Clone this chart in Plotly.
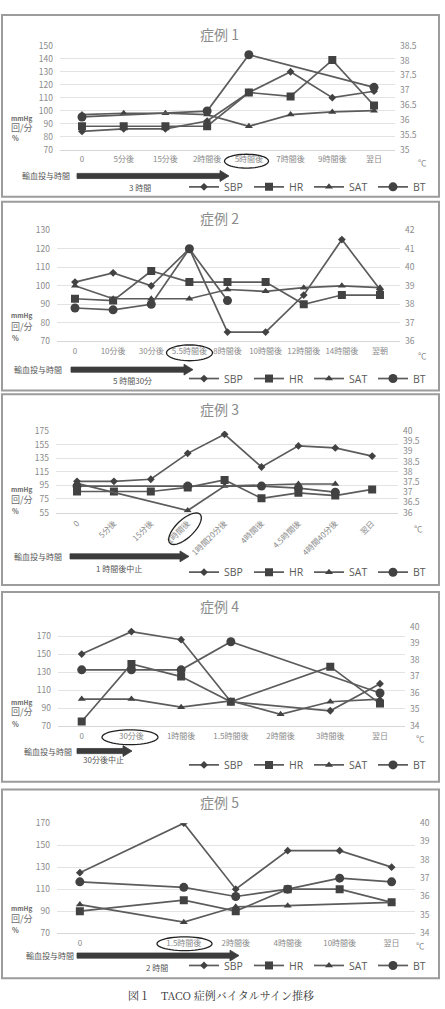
import numpy as np
import plotly.graph_objects as go

# ---------------- data ----------------
case1_cats = ["0", "5分後", "15分後", "2時間後", "5時間後", "7時間後", "9時間後", "翌日"]
case1_sbp = [84, 86, 86, 92, 114, 130, 110, 115]
case1_hr = [88, 88, 88, 88, 114, 111, 139, 104]
case1_sat = [97, 98, 98, 97, 88, 97, 99, 100]
case1_bt = [36.1, None, None, 36.3, 38.2, None, None, 37.1]

case2_cats = ["0", "10分後", "30分後", "5.5時間後", "8時間後", "10時間後", "12時間後", "14時間後", "翌朝"]
case2_sbp = [102, 107, 100, 120, 75, 75, 95, 125, 98]
case2_hr = [93, 92, 108, 102, 102, 102, 90, 95, 95]
case2_sat = [100, 93, 93, 93, 98, 97, 99, 100, 99]
case2_bt = [37.8, 37.7, 38.0, 41.0, 38.2, None, None, None, None]

case3_cats = ["0", "5分後", "15分後", "1時間後", "1時間20分後", "4時間後", "4.5時間後", "4時間40分後", "翌日"]
case3_sbp = [101, 101, 104, 142, 170, 122, 153, 150, 138]
case3_hr = [86, 86, 86, 92, 103, 76, 84, 80, 89]
case3_sat = [98, None, None, 58, 94, None, 97, 97, None]
case3_bt = [37.3, None, None, 37.3, None, 37.3, 37.2, 37.0, None]

case4_cats = ["0", "30分後", "1時間後", "1.5時間後", "2時間後", "3時間後", "翌日"]
case4_sbp = [150, 175, 166, 97, None, 87, 117]
case4_hr = [75, 139, 125, 97, None, 136, 95]
case4_sat = [100, 100, 91, 98, 83, 97, 100]
case4_bt = [37.4, 37.4, 37.4, 39.1, None, None, 36.0]

# the second category of case 5 is an unlabeled empty slot
case5_cats = ["0", " ", "1.5時間後", "2時間後", "4時間後", "10時間後", "翌日"]
case5_sbp = [125, None, 170, 110, 145, 145, 130]
case5_hr = [90, None, 100, 90, 110, 110, 98]
case5_sat = [96, None, 80, 94, 95, None, 98]
case5_bt = [36.8, None, 36.5, 36.0, 36.4, 37.0, 36.8]

series_names = ["SBP", "HR", "SAT", "BT"]
titles = ["症例 1", "症例 2", "症例 3", "症例 4", "症例 5"]
duration_labels = ["3 時間", "5 時間30分", "1 時間後中止", "30分後中止", "2 時間"]
caption = "図１　TACO 症例バイタルサイン推移"

cases = [
    (case1_cats, case1_sbp, case1_hr, case1_sat, case1_bt),
    (case2_cats, case2_sbp, case2_hr, case2_sat, case2_bt),
    (case3_cats, case3_sbp, case3_hr, case3_sat, case3_bt),
    (case4_cats, case4_sbp, case4_hr, case4_sat, case4_bt),
    (case5_cats, case5_sbp, case5_hr, case5_sat, case5_bt),
]

# ---------------- layout geometry (pixels) ----------------
W, H = 445, 1009
def px(x): return x / W
def py(y): return 1 - y / H

panels = [
    dict(xd=(60, 395), yd=(39.3, 144.3), xr=[-0.527, 7.503], yl=[70, 150], ylt=(70, 10),
         yr=[35, 38.5], yrt=(35, 0.5), box=(2, 8, 439, 192), title_y=27,
         units_y=(112, 122, 133), deg=(422, 157), arrow=(77, 229, 171), lab_x=46, dur=(140, 183),
         leg_y=182, angle=0),
    dict(xd=(57, 400), yd=(226, 338.3), xr=[-0.472, 8.525], yl=[70, 130], ylt=(70, 10),
         yr=[36, 42], yrt=(36, 1), box=(2, 197, 439, 388), title_y=214,
         units_y=(312, 323, 335), deg=(422, 352), arrow=(71, 193, 367), lab_x=38, dur=(132, 378),
         leg_y=376, angle=0),
    dict(xd=(56, 398), yd=(429, 511.7), xr=[-0.57, 8.70], yl=[55, 175], ylt=(55, 20),
         yr=[36, 40], yrt=(36, 0.5), box=(2, 392, 439, 585), title_y=407,
         units_y=(488, 498, 510), deg=(418, 527), arrow=(70, 189, 556), lab_x=38, dur=(119, 568),
         leg_y=572, angle=-45),
    dict(xd=(58, 405), yd=(627.3, 727.7), xr=[-0.477, 6.503], yl=[70, 180.3], ylt=(70, 20),
         yr=[34, 40], yrt=(34, 1), box=(2, 592, 439, 784), title_y=606,
         units_y=(703, 713, 726), deg=(420, 740), arrow=(77, 132, 753), lab_x=48, dur=(103, 762),
         leg_y=767, angle=0),
    dict(xd=(57, 415), yd=(826, 937.3), xr=[-0.44, 6.45], yl=[70, 170], ylt=(70, 20),
         yr=[34, 40], yrt=(34, 1), box=(2, 792, 439, 983), title_y=805,
         units_y=(912, 922, 934), deg=(420, 949), arrow=(77, 239, 960), lab_x=50, dur=(157, 972),
         leg_y=970, angle=0),
]

ellipses = [
    dict(cx=246.5, cy=156, a=22, b=7, ang=0),
    dict(cx=189.5, cy=350, a=23, b=8, ang=0),
    dict(cx=185, cy=528, a=21, b=9, ang=44),
    dict(cx=130, cy=739, a=28, b=7.5, ang=0),
    dict(cx=184.5, cy=948, a=27.5, b=7, ang=0),
]

FONT = "Noto Sans CJK JP, Noto Sans, sans-serif"
LINE_C = "#5c5c5c"
MARK_C = "#424242"
TICK_C = "#8a8a8a"
GRID_C = "#e3e3e3"

symbols = ["diamond", "square", "triangle-up", "circle"]
sizes = [6, 8, 7, 9]
leg_w = [20, 15, 19, 14]

fig = go.Figure()
layout = dict(
    width=W, height=H, autosize=False,
    margin=dict(l=0, r=0, t=0, b=0),
    paper_bgcolor="white", plot_bgcolor="white",
    font=dict(family=FONT, color=TICK_C),
    showlegend=True,
)
annotations = []
shapes = []

for i, (p, data) in enumerate(zip(panels, cases)):
    n = i + 1
    xname = "x" if n == 1 else f"x{n}"
    yl_name = "y" if n == 1 else f"y{2*n-1}"
    yr_name = f"y{2*n}"
    legname = "legend" if n == 1 else f"legend{n}"
    cats = data[0]
    for k in range(4):
        vals = data[k + 1]
        fig.add_trace(go.Scatter(
            x=cats, y=vals, name=series_names[k], mode="lines+markers",
            xaxis=xname, yaxis=(yr_name if k == 3 else yl_name),
            connectgaps=True, legend=legname, legendwidth=leg_w[k],
            line=dict(color=LINE_C, width=1.7),
            marker=dict(symbol=symbols[k], size=sizes[k], color=MARK_C),
            hoverinfo="x+y+name",
        ))

    xkey = "xaxis" if n == 1 else f"xaxis{n}"
    ylkey = "yaxis" if n == 1 else f"yaxis{2*n-1}"
    yrkey = f"yaxis{2*n}"
    layout[xkey] = dict(
        domain=[px(p["xd"][0]), px(p["xd"][1])], anchor=yl_name,
        type="category", categoryorder="array", categoryarray=cats,
        range=p["xr"], showgrid=False, zeroline=False,
        showline=True, linecolor="#d6d6d6", linewidth=1,
        ticks="", tickangle=p["angle"], ticklabelstandoff=2,
        tickfont=dict(size=8, color=TICK_C, family=FONT),
        fixedrange=True,
    )
    layout[ylkey] = dict(
        domain=[py(p["yd"][1]), py(p["yd"][0])], anchor=xname,
        range=p["yl"], tick0=p["ylt"][0], dtick=p["ylt"][1],
        showgrid=True, gridcolor=GRID_C, gridwidth=1, zeroline=False,
        showline=False, ticks="", ticklabelstandoff=6,
        tickfont=dict(size=8.5, color=TICK_C, family=FONT),
        fixedrange=True,
    )
    layout[yrkey] = dict(
        domain=[py(p["yd"][1]), py(p["yd"][0])], anchor=xname,
        overlaying=yl_name, side="right",
        range=p["yr"], tick0=p["yrt"][0], dtick=p["yrt"][1],
        showgrid=False, zeroline=False, showline=False, ticks="",
        ticklabelstandoff=4,
        tickfont=dict(size=8.5, color=TICK_C, family=FONT),
        fixedrange=True,
    )
    layout[legname] = dict(
        orientation="h", x=px(432), xanchor="right", y=py(p["leg_y"]), yanchor="middle",
        font=dict(size=10.5, color="#595959", family="Open Sans, Noto Sans, sans-serif"),
        bgcolor="rgba(0,0,0,0)", borderwidth=0, itemwidth=30,
        tracegroupgap=0, traceorder="normal",
    )

    # panel frame
    bx0, by0, bx1, by1 = p["box"]
    shapes.append(dict(type="rect", xref="paper", yref="paper",
                       x0=px(bx0), x1=px(bx1), y0=py(by1), y1=py(by0),
                       line=dict(color="#9c9c9c", width=2), fillcolor="rgba(0,0,0,0)", layer="below"))
    # title
    annotations.append(dict(text=titles[i], x=px(219), y=py(p["title_y"]), xref="paper", yref="paper",
                            showarrow=False, xanchor="center", yanchor="middle",
                            font=dict(size=14, color="#8c8c8c", family=FONT)))
    # unit labels
    uy = p["units_y"]
    annotations.append(dict(text="<b>mmHg</b>", x=px(9), y=py(uy[0]), xref="paper", yref="paper",
                            showarrow=False, xanchor="left", yanchor="middle",
                            font=dict(size=6.5, color="#6a6a6a", family=FONT)))
    annotations.append(dict(text="回/分", x=px(9), y=py(uy[1]), xref="paper", yref="paper",
                            showarrow=False, xanchor="left", yanchor="middle",
                            font=dict(size=9, color="#6a6a6a", family=FONT)))
    annotations.append(dict(text="<b>%</b>", x=px(10), y=py(uy[2]), xref="paper", yref="paper",
                            showarrow=False, xanchor="left", yanchor="middle",
                            font=dict(size=7, color="#6a6a6a", family=FONT)))
    annotations.append(dict(text="℃", x=px(p["deg"][0]), y=py(p["deg"][1]), xref="paper", yref="paper",
                            showarrow=False, xanchor="center", yanchor="middle",
                            font=dict(size=8.5, color=TICK_C, family=FONT)))
    # infusion arrow
    ax0, ax1, ay = p["arrow"]
    head = 9
    bh, hh = 2.6, 5.5
    path = (f"M{px(ax0)},{py(ay - bh)} L{px(ax1 - head)},{py(ay - bh)} L{px(ax1 - head)},{py(ay - hh)} "
            f"L{px(ax1)},{py(ay)} L{px(ax1 - head)},{py(ay + hh)} L{px(ax1 - head)},{py(ay + bh)} "
            f"L{px(ax0)},{py(ay + bh)} Z")
    shapes.append(dict(type="path", xref="paper", yref="paper", path=path,
                       fillcolor="#3c3c3c", line=dict(color="#3c3c3c", width=0.8)))
    annotations.append(dict(text="輸血投与時間", x=px(p["lab_x"]), y=py(ay), xref="paper", yref="paper",
                            showarrow=False, xanchor="center", yanchor="middle",
                            font=dict(size=8, color="#555555", family=FONT)))
    annotations.append(dict(text=duration_labels[i], x=px(p["dur"][0]), y=py(p["dur"][1]),
                            xref="paper", yref="paper", showarrow=False,
                            xanchor="center", yanchor="middle",
                            font=dict(size=8, color="#555555", family=FONT)))
    # ellipse highlight (screen coords, y downward, angle counter-clockwise)
    e = ellipses[i]
    t = np.linspace(0, 2 * np.pi, 49)
    ph = np.deg2rad(e["ang"])
    ex = e["cx"] + e["a"] * np.cos(t) * np.cos(ph) + e["b"] * np.sin(t) * np.sin(ph)
    ey = e["cy"] - e["a"] * np.cos(t) * np.sin(ph) + e["b"] * np.sin(t) * np.cos(ph)
    epath = "M" + " L".join(f"{px(a):.5f},{py(b):.5f}" for a, b in zip(ex, ey)) + " Z"
    shapes.append(dict(type="path", xref="paper", yref="paper", path=epath,
                       line=dict(color="#222222", width=1.3), fillcolor="rgba(0,0,0,0)"))

annotations.append(dict(text=caption, x=px(221), y=py(1000), xref="paper", yref="paper",
                        showarrow=False, xanchor="center", yanchor="middle",
                        font=dict(size=11, color="#333333",
                                  family="Noto Serif CJK JP, DejaVu Serif, Noto Sans CJK JP, serif")))

layout["annotations"] = annotations
layout["shapes"] = shapes
fig.update_layout(**layout)
fig.write_html("out.html")
